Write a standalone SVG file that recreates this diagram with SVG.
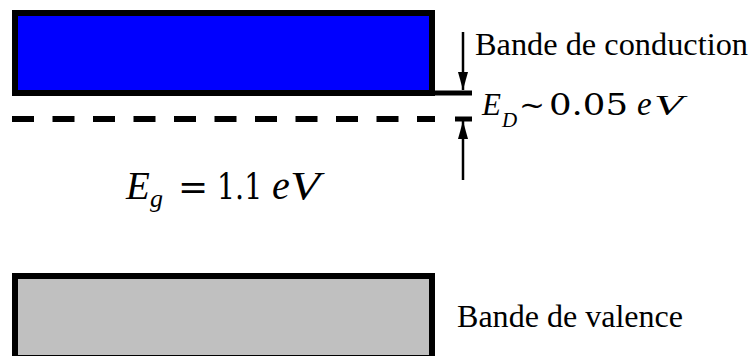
<svg xmlns="http://www.w3.org/2000/svg" width="754" height="356" viewBox="0 0 754 356">
<style>
.lbl{font-family:"Liberation Serif","Times New Roman",serif;fill:#000}
.m{font-family:"DejaVu Serif","Liberation Serif",serif;fill:#000}
.i{font-family:"Liberation Serif","Times New Roman",serif;font-style:italic;fill:#000}
.ln{stroke:#000;fill:none}
</style>
<defs>
<marker id="ah" viewBox="0 0 18 10" refX="18" refY="5" markerWidth="18" markerHeight="10" markerUnits="userSpaceOnUse" orient="auto">
<path d="M0,0 L18,5 L0,10 Z" fill="#000"/>
</marker>
</defs>
<rect width="754" height="356" fill="#fff"/>
<g id="conduction">
<rect x="15" y="13" width="417" height="80" fill="#0000ff" stroke="#000" stroke-width="6"/>
<text class="lbl" x="475" y="55" font-size="31" textLength="273" lengthAdjust="spacingAndGlyphs">Bande de conduction</text>
</g>
<g id="donor">
<line class="ln" x1="12" y1="119" x2="435" y2="119" stroke-width="6" stroke-dasharray="22 18.5"/>
</g>
<g id="valence">
<rect x="15" y="276" width="417" height="82" fill="#c0c0c0" stroke="#000" stroke-width="6"/>
<text class="lbl" x="457" y="327" font-size="32" textLength="226" lengthAdjust="spacingAndGlyphs">Bande de valence</text>
</g>
<g id="connectors">
<line class="ln" x1="432" y1="93" x2="472" y2="93" stroke-width="5"/>
<line class="ln" x1="455" y1="119" x2="472" y2="119" stroke-width="5"/>
<line class="ln" x1="463" y1="32" x2="463" y2="90" stroke-width="2.5" marker-end="url(#ah)"/>
<line class="ln" x1="463" y1="180" x2="463" y2="121" stroke-width="2.5" marker-end="url(#ah)"/>
</g>
<g id="label-ED">
<text class="i" x="482" y="115" font-size="31">E</text>
<text class="i" x="502" y="127" font-size="21">D</text>
<text class="m" x="519" y="115" font-size="28" textLength="26" lengthAdjust="spacingAndGlyphs">~</text>
<text class="m" x="549" y="115" font-size="29" textLength="79" lengthAdjust="spacingAndGlyphs">0.05</text>
<text class="i" x="637" y="115" font-size="33">e</text>
<text class="i" x="654" y="115" font-size="30" textLength="29" lengthAdjust="spacingAndGlyphs">V</text>
</g>
<g id="label-Eg">
<text class="i" x="126" y="199" font-size="39">E</text>
<text class="i" x="150" y="207" font-size="26">g</text>
<text class="m" x="178" y="199" font-size="36">=</text>
<text class="m" transform="translate(217,199) scale(0.79,1)" font-size="36">1.1</text>
<text class="i" x="272" y="199" font-size="40">e</text>
<text class="i" x="290" y="199" font-size="39" textLength="30" lengthAdjust="spacingAndGlyphs">V</text>
</g>
</svg>
